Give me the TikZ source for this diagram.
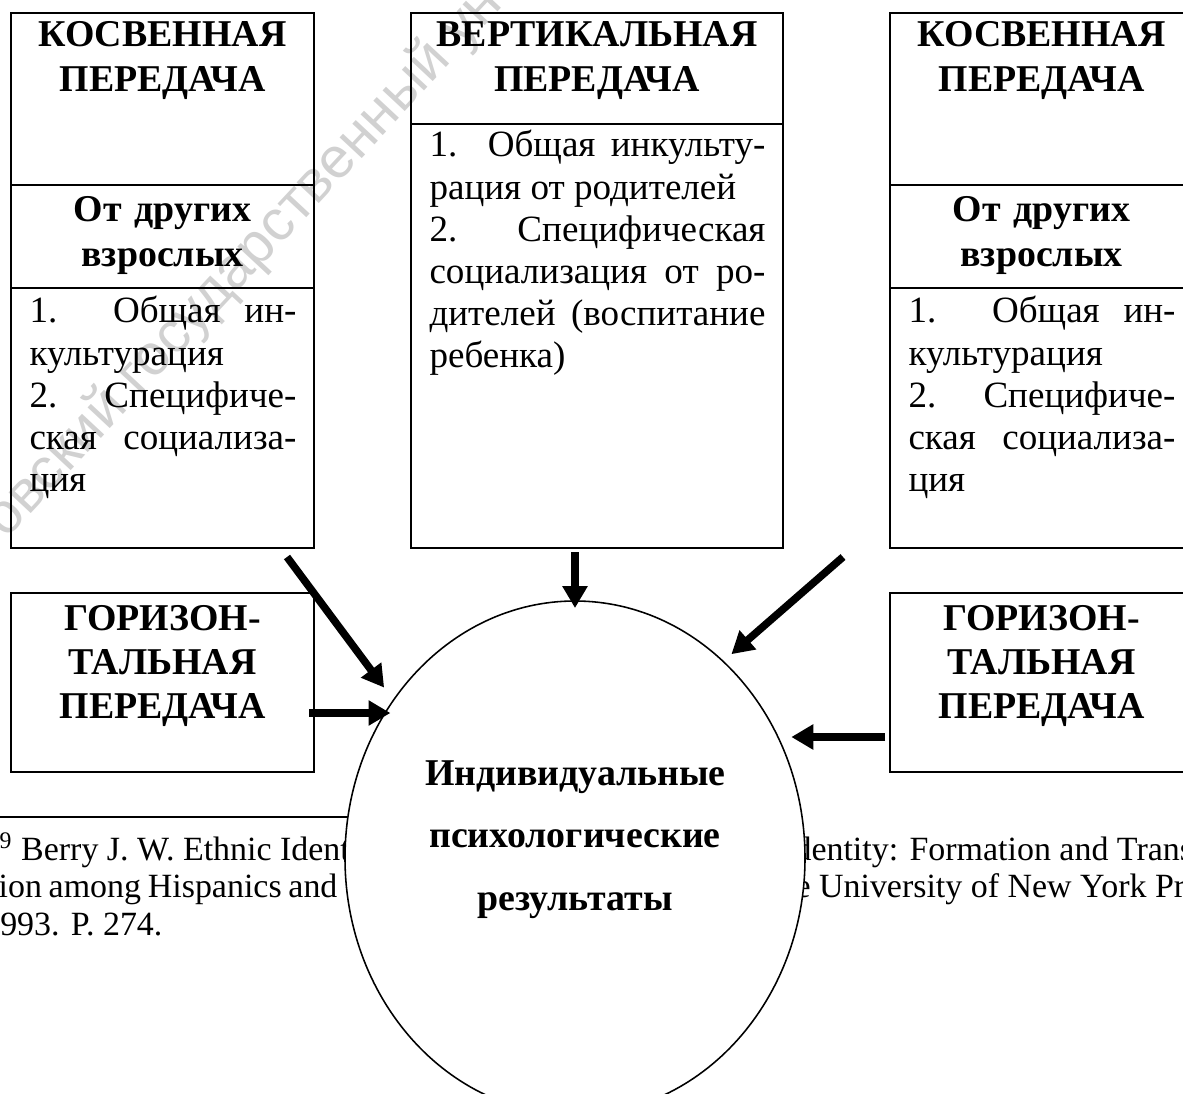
\documentclass[tikz,border=0pt]{standalone}
\usepackage{fontspec}
\setmainfont{Liberation Serif}
\setsansfont{Liberation Sans}
\usepackage{xcolor}
\usepackage{tikz}
\usetikzlibrary{arrows.meta,shapes.geometric}

\newlength\pxu
\setlength\pxu{0.383pt}

\begin{document}
\begin{tikzpicture}[x=0.383pt, y=-0.383pt,
    frame/.style={draw, line width=0.77pt},
    head/.style={anchor=base, inner sep=0pt, align=center, font=\bfseries\fontsize{14.5}{16.9}\selectfont},
    body/.style={anchor=base west, inner sep=0pt, align=justify, font=\fontsize{14.2}{16.1}\selectfont},
    note/.style={inner sep=0pt, font=\fontsize{13}{14.9}\selectfont},
    wmark/.style={inner sep=0pt, text=black!18, font=\sffamily\fontsize{22}{22}\selectfont},
    fat/.style={line width=2.9pt, -{Triangle[length=8.4pt,width=9.2pt]}}]
          \useasboundingbox (0,0) rectangle (1183,1094);
          \clip (0,0) rectangle (1183,1094);

          \node[wmark, rotate=47, anchor=base west] (wm) at (6,540) {овский государственный ун};

          % side boxes: indirect and horizontal transmission
          \foreach \x [count=\i] in {11, 890}{%
            \draw[frame] (\x,13) rectangle ++(303,535);
            \draw[frame] (\x,185) -- ++(303,0);
            \draw[frame] (\x,288) -- ++(303,0);
            \node[head, text width=267\pxu] (kos\i) at (\x+151.5,47) {КОСВЕННАЯ\\ПЕРЕДАЧА};
            \node[head, text width=267\pxu] (adult\i) at (\x+151.5,222) {От других\\взрослых};
            \node[body, text width=267\pxu] (kosT\i) at (\x+18,323) {1. Общая ин-\linebreak культурация\\2. Специфиче-\linebreak ская социализа-\linebreak ция};
            \draw[frame] (\x,593) rectangle ++(303,179);
            \node[head, text width=267\pxu] (hor\i) at (\x+151.5,630) {ГОРИЗОН-\\ТАЛЬНАЯ\\ПЕРЕДАЧА};
          }

          % vertical transmission
          \draw[frame] (411,13) rectangle (783,548);
          \draw[frame] (411,124) -- (783,124);
          \node[head, text width=336\pxu] (vert) at (597,47) {ВЕРТИКАЛЬНАЯ\\ПЕРЕДАЧА};
          \node[body, text width=336\pxu] (vertT) at (429,157) {1. Общая инкульту-\linebreak рация от родителей\\2. Специфическая\linebreak социализация от ро-\linebreak дителей (воспитание\linebreak ребенка)};

          % footnote behind the ellipse
          \draw[line width=0.77pt] (0,817) -- (500,817);
          \node[note, anchor=base west] (fn1) at (-1,860) {\textsuperscript{9} Berry J. W. Ethnic Ident};
          \node[note, anchor=base east] (fn2) at (338,897) {\makebox[352\pxu][s]{sion among Hispanics and}};
          \node[note, anchor=base east] (fn3) at (163,935) {1993. P. 274.};
          \node[note, anchor=base west] (fn4) at (794,860) {dentity: Formation and Transm};
          \node[note, anchor=base west] (fn5) at (795,897) {e University of New York Pr};

          \node[ellipse, draw, fill=white, line width=0.6pt, outer sep=0pt, minimum width=460\pxu, minimum height=514\pxu] (res) at (575,858) {};
          \node[head, text width=300\pxu, font=\bfseries\fontsize{14.5}{24.1}\selectfont] (resT) at (575,785) {Индивидуальные\\психологические\\результаты};

          \coordinate (aL) at (287,557);
          \coordinate (aH) at (309,713);
          \coordinate (aV) at (575,552);
          \coordinate (aR) at (843,557);
          \coordinate (aS) at (885,737);
          \draw[fat, shorten >=6pt] (aL) -- (res.139.9);
          \draw[fat, shorten >=-1.5pt] (aH) -- (aH -| res.142.6);
          \draw[fat, shorten >=-2.7pt] (aV) -- (res.north);
          \draw[fat, shorten >=4.2pt] (aR) -- (res.53.8);
          \draw[fat, shorten >=4.6pt] (aS) -- (aS -| res.30.8);
        \end{tikzpicture}
\end{document}
